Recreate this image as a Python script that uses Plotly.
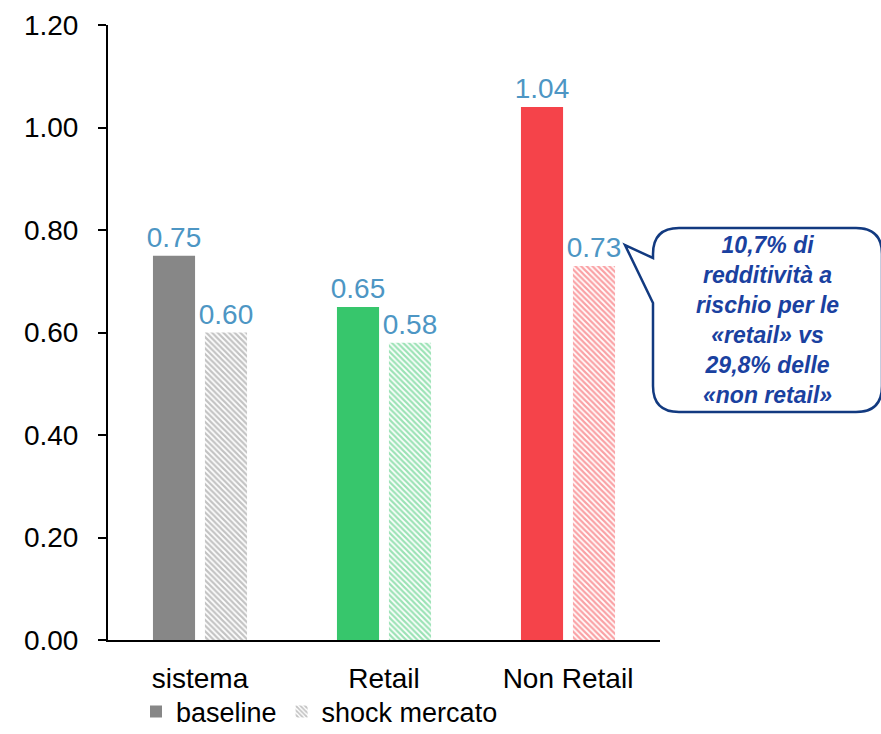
import plotly.graph_objects as go

# Categories and values
categories = ["sistema", "Retail", "Non Retail"]
baseline = [0.75, 0.65, 1.04]
shock_mercato = [0.60, 0.58, 0.73]
bar_colors = ["#878787", "#37c66c", "#f5434a"]
y_ticks = [0.0, 0.2, 0.4, 0.6, 0.8, 1.0, 1.2]
callout_lines = ["10,7% di", "redditività a", "rischio per le",
                 "«retail» vs", "29,8% delle", "«non retail»"]

W, H = 881, 734
ML, MR, MT, MB = 108, 221, 25, 94
PW, PH = W - ML - MR, H - MT - MB


def px_x(px):
    return (px - ML) / PW


def px_y(py):
    return (H - MB - py) / PH


label_font = dict(family="Liberation Sans, Arial", size=28, color="#4d96c4")

fig = go.Figure()
fig.add_trace(go.Bar(
    name="baseline", x=categories, y=baseline,
    marker=dict(color=bar_colors, line=dict(width=0)),
    texttemplate="%{y:.2f}", textposition="outside", constraintext="none",
    textfont=label_font, cliponaxis=False,
))
fig.add_trace(go.Bar(
    name="shock mercato", x=categories, y=shock_mercato,
    marker=dict(color="white", line=dict(width=0),
                pattern=dict(shape="\\", fgcolor=bar_colors, bgcolor="white",
                             size=4, solidity=0.55)),
    texttemplate="%{y:.2f}", textposition="outside", constraintext="none",
    textfont=label_font, cliponaxis=False,
))

# Speech-bubble callout
L, T, R, B, r = 653, 228, 882, 412, 26
tip_x, tip_y = 625, 245
tail_top, tail_bot = 258, 303
path = (
    f"M {px_x(L)},{px_y(tail_top)} "
    f"L {px_x(L)},{px_y(T + r)} Q {px_x(L)},{px_y(T)} {px_x(L + r)},{px_y(T)} "
    f"L {px_x(R - r)},{px_y(T)} Q {px_x(R)},{px_y(T)} {px_x(R)},{px_y(T + r)} "
    f"L {px_x(R)},{px_y(B - r)} Q {px_x(R)},{px_y(B)} {px_x(R - r)},{px_y(B)} "
    f"L {px_x(L + r)},{px_y(B)} Q {px_x(L)},{px_y(B)} {px_x(L)},{px_y(B - r)} "
    f"L {px_x(L)},{px_y(tail_bot)} L {px_x(tip_x)},{px_y(tip_y)} Z"
)
fig.add_shape(type="path", xref="paper", yref="paper", path=path,
              line=dict(color="#123a80", width=2.5), fillcolor="white", layer="above")
fig.add_annotation(
    xref="paper", yref="paper", x=px_x(767), y=px_y(320),
    xanchor="center", yanchor="middle",
    text="<br>".join(f"<b><i>{s}</i></b>" for s in callout_lines),
    showarrow=False, align="center",
    font=dict(family="Liberation Sans, Arial", size=23, color="#1a41a0"),
)

fig.update_layout(
    width=W, height=H,
    margin=dict(l=ML, r=MR, t=MT, b=MB, autoexpand=False),
    plot_bgcolor="white", paper_bgcolor="white",
    barmode="group", bargap=0.435, bargroupgap=0.19,
    font=dict(family="Liberation Sans, Arial", size=28, color="black"),
    showlegend=True,
    legend=dict(orientation="h", x=px_x(136), y=px_y(712), xanchor="left", yanchor="middle",
                font=dict(size=27, color="black"), itemwidth=30, maxheight=60,
                bgcolor="rgba(0,0,0,0)", borderwidth=0),
    xaxis=dict(showline=True, linecolor="black", linewidth=2, ticks="",
               showgrid=False, ticklabelstandoff=12,
               tickfont=dict(size=28, color="black")),
    yaxis=dict(range=[0, 1.2], tickvals=y_ticks, tickformat=".2f",
               showline=True, linecolor="black", linewidth=2,
               ticks="outside", ticklen=8, tickwidth=2, tickcolor="black",
               showgrid=False, zeroline=False, ticklabelstandoff=14,
               tickfont=dict(size=28, color="black")),
)

fig.write_html("out.html")
